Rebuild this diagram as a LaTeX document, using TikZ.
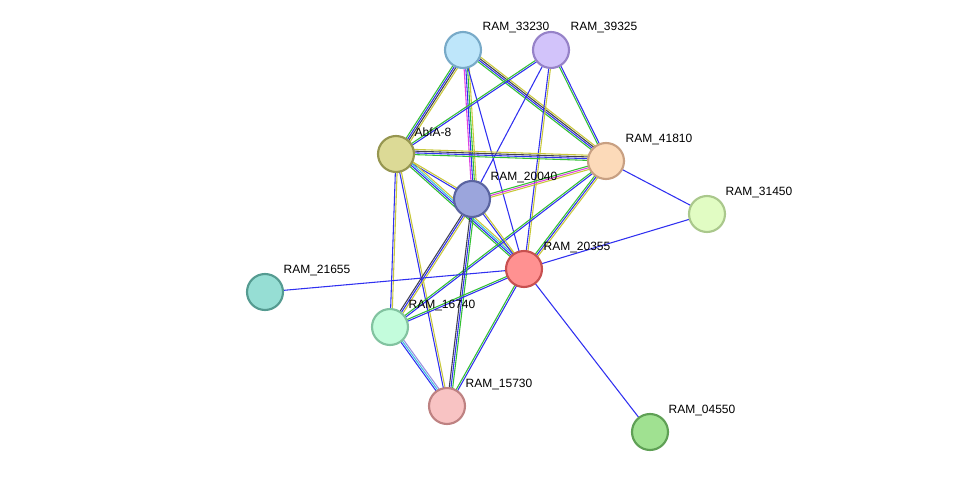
\documentclass[tikz,border=0pt]{standalone}
\usepackage{fontspec}
\setmainfont{Liberation Sans}
\usetikzlibrary{calc}
\usetikzlibrary{backgrounds}

\definecolor{sgreen}{HTML}{33C033}
\definecolor{sblue}{HTML}{3030F0}
\definecolor{syellow}{HTML}{C8C83A}
\definecolor{smag}{HTML}{E040E0}
\definecolor{scyan}{HTML}{40C0E0}
\definecolor{sblack}{HTML}{404050}
\definecolor{spurple}{HTML}{9A90E0}

\tikzset{
  prot/.style={circle, minimum size=27pt, inner sep=0pt, line width=1.6pt},
  tag/.style={font=\fontsize{9}{10}\selectfont, inner sep=1pt, anchor=west}
}

% parallel coloured lines from node to node
\newcommand\link[3]{%
  \foreach \c [count=\i] in {#3} {
    \draw[\c, line width=0.8pt] ($(#1)!{(\i-1)*1.3pt}!90:(#2)$) -- ($(#2)!{(\i-1)*1.3pt}!-90:(#1)$);
  }}

\begin{document}
\begin{tikzpicture}[x=0.75pt, y=-0.75pt]
\useasboundingbox (0,0) rectangle (976,478);

\node[prot, fill={rgb,255:red,190;green,230;blue,250}, draw={rgb,255:red,120;green,170;blue,200}] (p33230) at (463,50) {};
\node[prot, fill={rgb,255:red,210;green,195;blue,250}, draw={rgb,255:red,150;green,130;blue,200}] (p39325) at (551,50) {};
\node[prot, fill={rgb,255:red,220;green,218;blue,150}, draw={rgb,255:red,150;green,150;blue,80}] (abfa) at (396,154) {};
\node[prot, fill={rgb,255:red,252;green,218;blue,185}, draw={rgb,255:red,200;green,160;blue,130}] (p41810) at (606,161) {};
\node[prot, fill={rgb,255:red,155;green,165;blue,220}, draw={rgb,255:red,90;green,100;blue,160}] (p20040) at (472,199) {};
\node[prot, fill={rgb,255:red,225;green,252;blue,195}, draw={rgb,255:red,170;green,200;blue,140}] (p31450) at (707,214) {};
\node[prot, fill={rgb,255:red,255;green,145;blue,145}, draw={rgb,255:red,200;green,80;blue,80}] (p20355) at (524,269) {};
\node[prot, fill={rgb,255:red,150;green,222;blue,212}, draw={rgb,255:red,85;green,155;blue,145}] (p21655) at (265,292) {};
\node[prot, fill={rgb,255:red,195;green,252;blue,220}, draw={rgb,255:red,130;green,195;blue,160}] (p16740) at (390,327) {};
\node[prot, fill={rgb,255:red,248;green,195;blue,195}, draw={rgb,255:red,190;green,130;blue,130}] (p15730) at (447,406) {};
\node[prot, fill={rgb,255:red,160;green,225;blue,145}, draw={rgb,255:red,95;green,160;blue,85}] (p04550) at (650,432) {};

\node[tag] (l33230) at (481,28) {RAM\_33230};
\node[tag] (l39325) at (569,28) {RAM\_39325};
\node[tag] (labfa) at (413,132) {AbfA-8};
\node[tag] (l41810) at (624,140) {RAM\_41810};
\node[tag] (l20040) at (489,178) {RAM\_20040};
\node[tag] (l31450) at (724,193) {RAM\_31450};
\node[tag] (l20355) at (542,248) {RAM\_20355};
\node[tag] (l21655) at (282,271) {RAM\_21655};
\node[tag] (l16740) at (407,306) {RAM\_16740};
\node[tag] (l15730) at (464,385) {RAM\_15730};
\node[tag] (l04550) at (667,411) {RAM\_04550};

\begin{scope}[on background layer]
\link{p33230}{abfa}{sgreen,sblue,sblack,syellow}
\link{p33230}{p41810}{sgreen,sblue,sblack,syellow}
\link{p33230}{p20040}{smag,sblue,sgreen,syellow}
\link{p33230}{p20355}{sblue}
\link{p39325}{abfa}{sgreen,sblue}
\link{p39325}{p41810}{sgreen,sblue}
\link{p39325}{p20040}{sblue}
\link{p39325}{p20355}{sblue,syellow}
\link{abfa}{p41810}{sgreen,sblue,sblack,syellow}
\link{abfa}{p20040}{sblue,syellow}
\link{abfa}{p20355}{sgreen,sblue,scyan,syellow}
\link{abfa}{p16740}{sblue,syellow}
\link{abfa}{p15730}{sblue,syellow}
\link{p41810}{p20040}{sgreen,smag,syellow}
\link{p41810}{p20355}{sgreen,sblue,syellow}
\link{p41810}{p31450}{sblue}
\link{p41810}{p16740}{sgreen,sblue}
\link{p20040}{p20355}{sblue,syellow}
\link{p20040}{p16740}{sblack,sblue,syellow}
\link{p20040}{p15730}{sblack,sblue,sgreen}
\link{p20355}{p31450}{sblue}
\link{p20355}{p21655}{sblue}
\link{p20355}{p16740}{sgreen,sblue}
\link{p20355}{p15730}{sgreen,sblue}
\link{p20355}{p04550}{sblue}
\link{p16740}{p15730}{sblue,scyan,spurple}
\end{scope}
\end{tikzpicture}
\end{document}
